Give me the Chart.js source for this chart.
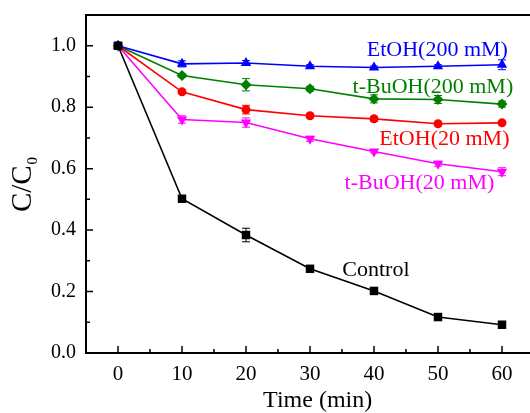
<!DOCTYPE html>
<html>
<head>
<meta charset="utf-8">
<script src="https://cdn.jsdelivr.net/npm/chart.js@4/dist/chart.umd.min.js"></script>
<style>
  html, body { margin: 0; padding: 0; background: #fff; overflow: hidden; }
  #wrap { width: 540px; height: 413px; }
</style>
</head>
<body>
<div id="wrap"><canvas id="chart"></canvas></div>
<script>
const times = [0, 10, 20, 30, 40, 50, 60];

const control = [1.0, 0.502, 0.384, 0.274, 0.202, 0.117, 0.092];
const controlErr = [0.005, 0.005, 0.022, 0.005, 0.005, 0.005, 0.005];

const etoh200 = [1.0, 0.941, 0.944, 0.933, 0.929, 0.933, 0.938];
const etoh200Err = [0.005, 0.01, 0.008, 0.005, 0.005, 0.005, 0.016];

const tbuoh200 = [1.0, 0.903, 0.873, 0.860, 0.827, 0.825, 0.810];
const tbuoh200Err = [0.005, 0.006, 0.02, 0.008, 0.013, 0.013, 0.01];

const etoh20 = [1.0, 0.850, 0.792, 0.772, 0.762, 0.746, 0.749];
const etoh20Err = [0.005, 0.006, 0.014, 0.006, 0.008, 0.005, 0.005];

const tbuoh20 = [1.0, 0.760, 0.750, 0.697, 0.656, 0.616, 0.590];
const tbuoh20Err = [0.005, 0.012, 0.015, 0.008, 0.005, 0.008, 0.013];

const xTicks = [0, 10, 20, 30, 40, 50, 60];
const yTicks = [0.0, 0.2, 0.4, 0.6, 0.8, 1.0];

// label text, anchor x (min), anchor y (C/C0)
const seriesLabels = [
  ["EtOH(200 mM)", 49.9, 0.985, "#0000ff"],
  ["t-BuOH(200 mM)", 49.2, 0.866, "#008000"],
  ["EtOH(20 mM)", 51.0, 0.697, "#ff0000"],
  ["t-BuOH(20 mM)", 47.1, 0.553, "#ff00ff"],
  ["Control", 40.3, 0.268, "#000000"]
];

const serif = "'Liberation Serif', 'Times New Roman', serif";

function series(label, values, errs, color, style, size, rot) {
  return {
    label: label,
    data: values.map((v, i) => ({ x: times[i], y: v })),
    errors: errs,
    borderColor: color,
    backgroundColor: color,
    borderWidth: 1.6,
    pointStyle: style,
    pointRotation: rot || 0,
    pointRadius: size,
    pointBorderWidth: 0,
    tension: 0
  };
}

const overlay = {
  id: "overlay",
  beforeDatasetsDraw(chart) {
    const ctx = chart.ctx;
    const xs = chart.scales.x, ys = chart.scales.y;
    ctx.save();
    // error bars
    chart.data.datasets.forEach(ds => {
      ctx.strokeStyle = ds.borderColor;
      ctx.lineWidth = 1;
      ds.data.forEach((p, i) => {
        const e = ds.errors[i];
        const px = xs.getPixelForValue(p.x);
        const top = ys.getPixelForValue(p.y + e);
        const bot = ys.getPixelForValue(p.y - e);
        ctx.beginPath();
        ctx.moveTo(px, top); ctx.lineTo(px, bot);
        ctx.moveTo(px - 4, top); ctx.lineTo(px + 4, top);
        ctx.moveTo(px - 4, bot); ctx.lineTo(px + 4, bot);
        ctx.stroke();
      });
    });
    ctx.restore();
  },
  afterDraw(chart) {
    const ctx = chart.ctx;
    const a = chart.chartArea;
    const xs = chart.scales.x, ys = chart.scales.y;
    ctx.save();
    ctx.strokeStyle = "#000";
    ctx.lineWidth = 2;
    // frame: left, bottom, top
    ctx.beginPath();
    ctx.moveTo(a.right + 5, a.top); ctx.lineTo(a.left, a.top);
    ctx.lineTo(a.left, a.bottom); ctx.lineTo(a.right + 5, a.bottom);
    ctx.stroke();
    // inward ticks
    ctx.lineWidth = 1.5;
    ctx.beginPath();
    for (let v = 0; v <= 60; v += 5) {
      const px = xs.getPixelForValue(v);
      const len = v % 10 === 0 ? 7 : 4;
      ctx.moveTo(px, a.bottom); ctx.lineTo(px, a.bottom - len);
    }
    for (let k = 0; k <= 10; k++) {
      const py = ys.getPixelForValue(k / 10);
      const len = k % 2 === 0 ? 7 : 4;
      ctx.moveTo(a.left, py); ctx.lineTo(a.left + len, py);
    }
    ctx.stroke();
    // series labels
    ctx.font = "22px " + serif;
    ctx.textAlign = "center";
    ctx.textBaseline = "middle";
    seriesLabels.forEach(([t, x, y, c]) => {
      ctx.fillStyle = c;
      ctx.fillText(t, xs.getPixelForValue(x), ys.getPixelForValue(y));
    });
    // x title
    ctx.fillStyle = "#000";
    ctx.font = "24px " + serif;
    ctx.fillText("Time (min)", xs.getPixelForValue(31.2), a.bottom + 48);
    // y title C/C0
    ctx.translate(31, (a.top + a.bottom) / 2 + 1);
    ctx.rotate(-Math.PI / 2);
    ctx.textAlign = "left";
    ctx.textBaseline = "alphabetic";
    const main = "C/C";
    ctx.font = "29px " + serif;
    const w = ctx.measureText(main).width;
    ctx.font = "15px " + serif;
    const w0 = ctx.measureText("0").width;
    const start = -(w + w0) / 2;
    ctx.font = "29px " + serif;
    ctx.fillText(main, start, 0);
    ctx.font = "15px " + serif;
    ctx.fillText("0", start + w + 1, 6);
    ctx.restore();
  }
};

new Chart(document.getElementById("chart"), {
  type: "line",
  data: {
    datasets: [
      series("Control", control, controlErr, "#000000", "rect", 6),
      series("EtOH(200 mM)", etoh200, etoh200Err, "#0000ff", "triangle", 6),
      series("t-BuOH(200 mM)", tbuoh200, tbuoh200Err, "#008000", "rectRot", 5.5),
      series("EtOH(20 mM)", etoh20, etoh20Err, "#ff0000", "circle", 4.5),
      series("t-BuOH(20 mM)", tbuoh20, tbuoh20Err, "#ff00ff", "triangle", 6, 180)
    ]
  },
  options: {
    responsive: true,
    maintainAspectRatio: false,
    animation: false,
    layout: { padding: { top: 15, right: 3, left: 0, bottom: 0 } },
    plugins: { legend: { display: false }, tooltip: { enabled: false } },
    scales: {
      x: {
        type: "linear",
        min: -5,
        max: 65,
        afterFit(s) { s.height = 60; s.paddingLeft = 0; s.paddingRight = 0; },
        afterBuildTicks(s) { s.ticks = xTicks.map(v => ({ value: v })); },
        grid: { display: false },
        border: { display: false },
        ticks: {
          padding: 1,
          color: "#000",
          font: { family: serif, size: 21 }
        }
      },
      y: {
        min: 0,
        max: 1.1,
        afterFit(s) { s.width = 86; s.paddingTop = 0; s.paddingBottom = 0; },
        afterBuildTicks(s) { s.ticks = yTicks.map(v => ({ value: v })); },
        grid: { display: false },
        border: { display: false },
        ticks: {
          padding: 2,
          color: "#000",
          font: { family: serif, size: 20 },
          callback: v => v.toFixed(1)
        }
      }
    }
  },
  plugins: [overlay]
});
</script>
</body>
</html>
